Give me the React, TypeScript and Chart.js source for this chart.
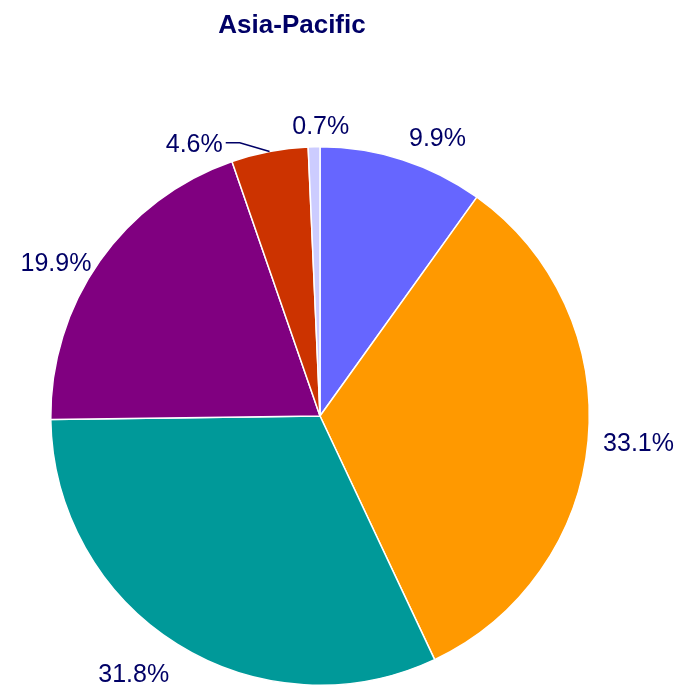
import React, { useEffect, useRef } from "react";
import { Chart, registerables } from "chart.js";

Chart.register(...registerables);

const TITLE = "Asia-Pacific";
const categories = ["A", "B", "C", "D", "E", "F"];
const shares = [9.9, 33.1, 31.8, 19.9, 4.6, 0.7];
const colors = ["#6666FF", "#FF9900", "#009999", "#800080", "#CC3300", "#CCCCFF"];
// label layout nudges (dx, dy) relative to the geometric anchor, and leader flags
const labelNudge = [
  [2, -8],
  [0, 0],
  [0, 16],
  [4, 9],
  [-27, 6],
  [7, -7],
];
const leaderLine = [false, false, false, false, true, false];

const NAVY = "#000066";
const FONT = "'Liberation Sans', Arial, Helvetica, sans-serif";

const labelPlugin = {
  id: "pieLabels",
  afterDraw(chart: any) {
    const ctx = chart.ctx;
    const meta = chart.getDatasetMeta(0);
    ctx.save();
    // title
    ctx.fillStyle = NAVY;
    ctx.font = `bold 26px ${FONT}`;
    ctx.textAlign = "center";
    ctx.textBaseline = "alphabetic";
    ctx.fillText(TITLE, 292, 33);

    ctx.font = `25px ${FONT}`;
    meta.data.forEach((arc: any, i: number) => {
      const { x, y, startAngle, endAngle, outerRadius } = arc.getProps(
        ["x", "y", "startAngle", "endAngle", "outerRadius"],
        true
      );
      const mid = (startAngle + endAngle) / 2;
      const c = Math.cos(mid);
      const s = Math.sin(mid);
      const gap = 15;
      let ax = x + (outerRadius + gap) * c + labelNudge[i][0];
      const ay = y + (outerRadius + gap) * s + labelNudge[i][1];
      const text = shares[i].toFixed(1) + "%";
      if (leaderLine[i]) {
        const ex = x + outerRadius * c;
        const ey = y + outerRadius * s;
        ctx.strokeStyle = NAVY;
        ctx.lineWidth = 1.5;
        ctx.beginPath();
        ctx.moveTo(ex, ey);
        ctx.lineTo(ax, ay);
        const dir = c < 0 ? -1 : 1;
        ctx.lineTo(ax + dir * 14, ay);
        ctx.stroke();
        ax = ax + dir * 17;
      }
      if (leaderLine[i]) {
        ctx.textAlign = c < 0 ? "right" : "left";
      } else if (c > 0.1) ctx.textAlign = "left";
      else if (c < -0.1) ctx.textAlign = "right";
      else ctx.textAlign = "center";
      ctx.fillStyle = NAVY;
      ctx.fillText(text, ax, ay + 9);
    });
    ctx.restore();
  },
};

export default function App() {
  const ref = useRef<HTMLCanvasElement | null>(null);
  useEffect(() => {
    if (!ref.current) return;
    const chart = new Chart(ref.current, {
      type: "pie",
      data: {
        labels: categories,
        datasets: [
          {
            data: shares,
            backgroundColor: colors,
            borderColor: "#FFFFFF",
            borderWidth: 1.5,
          },
        ],
      },
      options: {
        responsive: false,
        animation: false,
        layout: { padding: { top: 146, bottom: 0, left: 50, right: 94 } },
        plugins: {
          legend: { display: false },
          title: { display: false },
          tooltip: { enabled: false },
        },
      },
      plugins: [labelPlugin],
    });
    return () => chart.destroy();
  }, []);
  return (
    <div style={{ position: "absolute", left: 0, top: 0, width: 684, height: 686, background: "#fff" }}>
      <canvas ref={ref} width={684} height={686} style={{ width: 684, height: 686, display: "block" }} />
    </div>
  );
}
